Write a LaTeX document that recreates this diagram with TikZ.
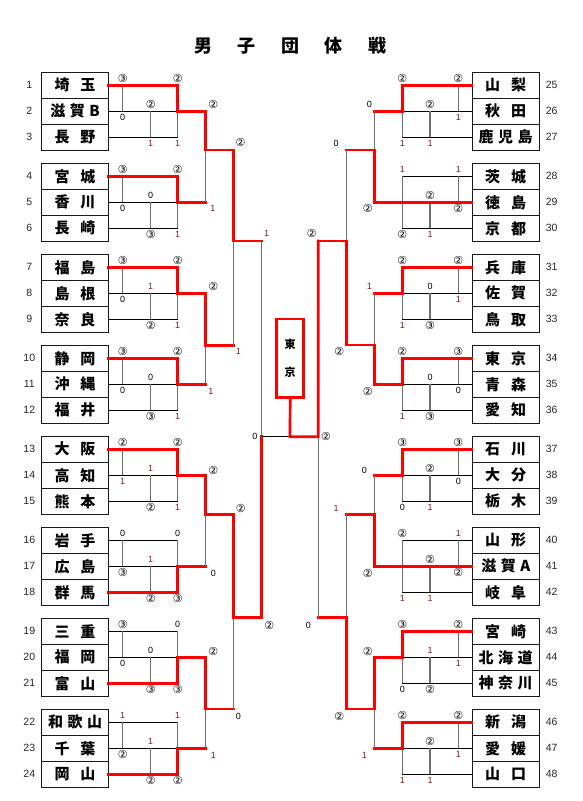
\documentclass[tikz,border=0pt]{standalone}
\usepackage{fontspec}
\setmainfont{Liberation Sans}
\newfontfamily\cjk{Noto Sans CJK JP}
\newfontfamily\circfont{DejaVu Sans}
\definecolor{scred}{HTML}{8B1A1A}
\definecolor{vgray}{HTML}{6E6E6E}
\definecolor{winred}{HTML}{FF0000}
\newcommand\gapTwo{\hspace{11pt}}
\newcommand\gapThr{\hspace{4.5pt}}
\newcommand\scv[1]{\ifcase#1 0\or\textcolor{scred}{1}\or{\circfont\fontsize{11}{11}\selectfont ②}\or{\circfont\fontsize{11}{11}\selectfont ③}\fi}
\begin{document}
\begin{tikzpicture}[x=1pt,y=-1pt,
  teambox/.style={draw=black!90,line width=0.9pt,minimum width=66.6pt,minimum height=26pt,inner sep=0pt,font=\cjk\bfseries\fontsize{15}{15}\selectfont},
  numlab/.style={inner sep=0pt,text=black!85,font=\fontsize{10.5}{10.5}\selectfont},
  slab/.style={inner sep=0pt,font=\fontsize{9}{9}\selectfont},
  hline/.style={draw=black,line width=0.9pt},
  vline/.style={draw=vgray,line width=1.2pt},
  win/.style={draw=winred,line width=2.7pt,line cap=rect},
  titlestyle/.style={inner sep=0pt,font=\cjk\bfseries\fontsize{18}{18}\selectfont},
  champbox/.style={draw=winred,line width=2.7pt,minimum width=27pt,minimum height=78.3pt,inner sep=0pt,align=center,font=\cjk\bfseries\fontsize{11}{28.7}\selectfont}
]
\useasboundingbox (0,0) rectangle (583,801);
\fill[white] (0,0) rectangle (583,801);

\node[titlestyle] (title) at (290.4,46) {男\hspace{25.5pt}子\hspace{25.5pt}団\hspace{25.5pt}体\hspace{25.5pt}戦};

% left teams
\foreach \i/\nm in {1/埼\gapTwo 玉,2/滋\gapThr 賀\gapThr B,3/長\gapTwo 野,4/宮\gapTwo 城,5/香\gapTwo 川,6/長\gapTwo 崎,7/福\gapTwo 島,8/島\gapTwo 根,9/奈\gapTwo 良,10/静\gapTwo 岡,11/沖\gapTwo 縄,12/福\gapTwo 井,13/大\gapTwo 阪,14/高\gapTwo 知,15/熊\gapTwo 本,16/岩\gapTwo 手,17/広\gapTwo 島,18/群\gapTwo 馬,19/三\gapTwo 重,20/福\gapTwo 岡,21/富\gapTwo 山,22/和\gapThr 歌\gapThr 山,23/千\gapTwo 葉,24/岡\gapTwo 山}{
  \pgfmathsetmacro\yy{72.3+91*floor((\i-1)/3)+13+26*mod(\i-1,3)}
  \node[teambox] (t\i) at (75,\yy) {\nm};
  \node[numlab] (n\i) at (29.3,\yy) {\i};
}
% right teams
\foreach \i/\nm in {25/山\gapTwo 梨,26/秋\gapTwo 田,27/鹿\gapThr 児\gapThr 島,28/茨\gapTwo 城,29/徳\gapTwo 島,30/京\gapTwo 都,31/兵\gapTwo 庫,32/佐\gapTwo 賀,33/鳥\gapTwo 取,34/東\gapTwo 京,35/青\gapTwo 森,36/愛\gapTwo 知,37/石\gapTwo 川,38/大\gapTwo 分,39/栃\gapTwo 木,40/山\gapTwo 形,41/滋\gapThr 賀\gapThr A,42/岐\gapTwo 阜,43/宮\gapTwo 崎,44/北\gapThr 海\gapThr 道,45/神\gapThr 奈\gapThr 川,46/新\gapTwo 潟,47/愛\gapTwo 媛,48/山\gapTwo 口}{
  \pgfmathsetmacro\yy{72.3+91*floor((\i-25)/3)+13+26*mod(\i-25,3)}
  \node[teambox] (t\i) at (505.7,\yy) {\nm};
  \node[numlab] (n\i) at (551.7,\yy) {\i};
}

% left group leagues
\foreach \k/\w in {0/1,1/1,2/1,3/1,4/1,5/3,6/3,7/3}{
  \pgfmathtruncatemacro\a{3*\k+1}
  \pgfmathtruncatemacro\b{3*\k+2}
  \pgfmathtruncatemacro\c{3*\k+3}
  \pgfmathtruncatemacro\wi{3*\k+\w}
  \pgfmathsetmacro\ra{72.3+91*\k+13}
  \pgfmathsetmacro\rb{\ra+26}
  \pgfmathsetmacro\rc{\ra+52}
  \pgfmathsetmacro\ry{\ra+26*(\w-1)}
  \draw[hline] (t\a.east) -- (177.7,\ra);
  \draw[hline] (t\b.east) -- (177.7,\rb);
  \draw[hline] (t\c.east) -- (177.7,\rc);
  \draw[vline] (122.7,\ra) -- (122.7,\rb);
  \draw[vline] (150.7,\rb) -- (150.7,\rc);
  \draw[vline] (177.7,\ra) -- (177.7,\rc);
  \draw[win] (t\wi.east) -- (177.7,\ry) -- (177.7,\rb) -- (205.7,\rb);
  \coordinate (L\k) at (205.7,\rb);
}
% right group leagues
\foreach \k/\w in {0/1,1/2,2/1,3/1,4/1,5/2,6/1,7/1}{
  \pgfmathtruncatemacro\a{3*\k+25}
  \pgfmathtruncatemacro\b{3*\k+26}
  \pgfmathtruncatemacro\c{3*\k+27}
  \pgfmathtruncatemacro\wi{3*\k+24+\w}
  \pgfmathsetmacro\ra{72.3+91*\k+13}
  \pgfmathsetmacro\rb{\ra+26}
  \pgfmathsetmacro\rc{\ra+52}
  \pgfmathsetmacro\ry{\ra+26*(\w-1)}
  \draw[hline] (t\a.west) -- (402.3,\ra);
  \draw[hline] (t\b.west) -- (402.3,\rb);
  \draw[hline] (t\c.west) -- (402.3,\rc);
  \draw[vline] (458.3,\ra) -- (458.3,\rb);
  \draw[vline] (430,\rb) -- (430,\rc);
  \draw[vline] (402.3,\ra) -- (402.3,\rc);
  \draw[win] (t\wi.west) -- (402.3,\ry) -- (402.3,\rb) -- (374.3,\rb);
  \coordinate (R\k) at (374.3,\rb);
}

% bracket coordinates
\coordinate (a1) at (205.7,150);   \coordinate (a2) at (205.7,345.5);
\coordinate (a3) at (205.7,514.5); \coordinate (a4) at (205.7,709);
\coordinate (b1) at (233.3,150);   \coordinate (b2) at (233.3,345.5);
\coordinate (b3) at (233.3,514.5); \coordinate (b4) at (233.3,709);
\coordinate (bx1) at (233.3,241);  \coordinate (bx2) at (233.3,617.7);
\coordinate (c1) at (261.7,241);   \coordinate (c2) at (261.7,617.7);
\coordinate (cx) at (261.7,436.7);
\coordinate (fm) at (290,436.7);
\coordinate (d1) at (374.3,150);   \coordinate (d2) at (374.3,345);
\coordinate (d3) at (374.3,514.3); \coordinate (d4) at (374.3,709);
\coordinate (e1) at (346.3,150);   \coordinate (e2) at (346.3,345);
\coordinate (e3) at (346.3,514.3); \coordinate (e4) at (346.3,709);
\coordinate (ex1) at (346.3,241);  \coordinate (ex2) at (346.3,617.7);
\coordinate (g1) at (318.3,241);   \coordinate (g2) at (318.3,617.7);
\coordinate (gx) at (318.3,436.7);

\node[champbox] (champ) at (290.2,358.2) {東\\京};

% left bracket
\draw[vline] (L0) -- (L1); \draw[win] (L0) -- (a1) -- (b1);
\draw[vline] (L2) -- (L3); \draw[win] (L2) -- (a2) -- (b2);
\draw[vline] (L4) -- (L5); \draw[win] (L4) -- (a3) -- (b3);
\draw[vline] (L6) -- (L7); \draw[win] (L6) -- (a4) -- (b4);
\draw[vline] (b1) -- (b2); \draw[win] (b1) -- (bx1) -- (c1);
\draw[vline] (b3) -- (b4); \draw[win] (b3) -- (bx2) -- (c2);
\draw[vline] (c1) -- (c2); \draw[win] (c2) -- (cx);
\draw[hline] (cx) -- (fm);
% right bracket
\draw[vline] (R0) -- (R1); \draw[win] (R1) -- (d1) -- (e1);
\draw[vline] (R2) -- (R3); \draw[win] (R3) -- (d2) -- (e2);
\draw[vline] (R4) -- (R5); \draw[win] (R5) -- (d3) -- (e3);
\draw[vline] (R6) -- (R7); \draw[win] (R6) -- (d4) -- (e4);
\draw[vline] (e1) -- (e2); \draw[win] (e2) -- (ex1) -- (g1);
\draw[vline] (e3) -- (e4); \draw[win] (e4) -- (ex2) -- (g2);
\draw[vline] (g1) -- (g2); \draw[win] (g1) -- (gx) -- (fm) -- (champ.south);

% left group scores
\foreach \k/\A/\B/\C/\D/\E/\F in {0/3/2/2/0/1/1,1/3/2/0/0/3/1,2/3/2/1/0/2/1,3/3/2/0/0/3/1,4/2/2/1/1/2/1,5/0/0/1/3/2/3,6/3/0/0/0/3/3,7/1/1/1/2/2/2}{
  \pgfmathsetmacro\ra{72.3+91*\k+13}
  \node[slab] (la\k) at (122.7,\ra-7) {\scv{\A}};
  \node[slab] (lb\k) at (177.7,\ra-7) {\scv{\B}};
  \node[slab] (lc\k) at (150.7,\ra+19) {\scv{\C}};
  \node[slab] (ld\k) at (122.7,\ra+32.5) {\scv{\D}};
  \node[slab] (le\k) at (150.7,\ra+58) {\scv{\E}};
  \node[slab] (lf\k) at (177.7,\ra+58) {\scv{\F}};
}
% right group scores
\foreach \k/\A/\B/\C/\D/\E/\F in {0/2/2/2/1/1/1,1/1/1/2/2/1/2,2/2/2/0/1/3/1,3/3/2/0/0/3/1,4/3/3/2/0/1/0,5/1/2/2/2/1/1,6/2/3/1/1/2/0,7/2/2/2/1/1/1}{
  \pgfmathsetmacro\ra{72.3+91*\k+13}
  \node[slab] (ra\k) at (458.3,\ra-7) {\scv{\A}};
  \node[slab] (rb\k) at (402.3,\ra-7) {\scv{\B}};
  \node[slab] (rc\k) at (430,\ra+19) {\scv{\C}};
  \node[slab] (rd\k) at (458.3,\ra+32.5) {\scv{\D}};
  \node[slab] (re\k) at (430,\ra+58) {\scv{\E}};
  \node[slab] (rf\k) at (402.3,\ra+58) {\scv{\F}};
}
% bracket scores
\foreach \px/\py/\v [count=\j] in {213.3/104.3/2,213/208.3/1,213.3/286.7/2,211/391.7/1,213.3/470/2,213.3/573.3/0,213.3/651.7/2,213.3/755/1,240.5/142.5/2,238.3/351.7/1,240.7/508.3/2,238.3/716/0,266.7/233/1,269.3/625/2,255/436.7/0,326/436.7/2,311.7/233.3/2,308.3/625/0,336/143.3/0,339.3/351/2,336/508.3/1,339.3/716.7/2,369.3/104.3/0,367.7/208.3/2,369.3/286.7/1,367.7/391.7/2,364.3/470/0,367.7/573.3/2,367.7/651.7/2,364.3/755.7/1}{
  \node[slab] (bs\j) at (\px,\py) {\scv{\v}};
}
\end{tikzpicture}
\end{document}
